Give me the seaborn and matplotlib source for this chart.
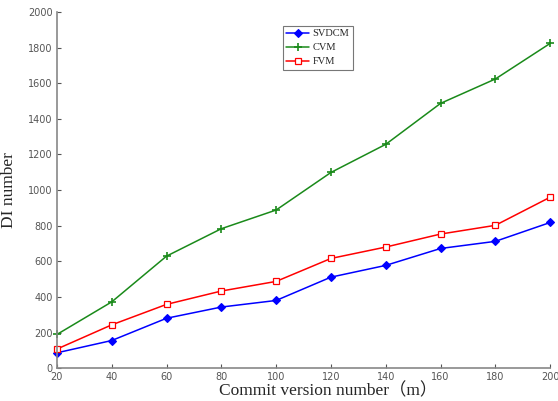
import matplotlib
matplotlib.use("Agg")
import matplotlib.pyplot as plt
import seaborn as sns
import pandas as pd

# Chart data
versions = [20, 40, 60, 80, 100, 120, 140, 160, 180, 200]
svdcm = [86, 155, 280, 343, 380, 511, 577, 672, 712, 818]
cvm = [189, 372, 629, 783, 888, 1099, 1257, 1487, 1624, 1824]
fvm = [107, 243, 358, 433, 487, 616, 680, 753, 802, 960]
methods = ["SVDCM", "CVM", "FVM"]

rows = []
for name, vals in zip(methods, [svdcm, cvm, fvm]):
    for v, d in zip(versions, vals):
        rows.append({"version": v, "DI": d, "method": name})
df = pd.DataFrame(rows)

sns.set_style("ticks")
plt.rcParams["font.family"] = ["DejaVu Sans"]

fig = plt.figure(figsize=(5.58, 4.01), dpi=100)
ax = fig.add_axes([0.102, 0.082, 0.884, 0.888])

palette = {"SVDCM": "#0000ff", "CVM": "#1a8a1a", "FVM": "#ff0000"}

sns.lineplot(data=df, x="version", y="DI", hue="method", palette=palette,
             linewidth=1.1, ax=ax, legend=False)

# markers drawn per series so the shapes match the reference
styles = {
    "SVDCM": dict(marker="D", markersize=4, markeredgewidth=0.8),
    "CVM": dict(marker="+", markersize=6, markeredgewidth=1.2),
    "FVM": dict(marker="s", markersize=5, markerfacecolor="white", markeredgewidth=0.9),
}
for name in methods:
    sub = df[df["method"] == name]
    ax.plot(sub["version"], sub["DI"], linestyle="none", color=palette[name],
            clip_on=False, **styles[name])

# legend proxies
handles = [plt.Line2D([], [], color=palette[n], linewidth=1.1, **styles[n]) for n in methods]
leg = ax.legend(handles, methods, loc="upper left", bbox_to_anchor=(0.458, 0.962),
                frameon=True, fancybox=False, handlelength=2.2,
                borderpad=0.35, labelspacing=0.45, handletextpad=0.3,
                borderaxespad=0.0,
                prop={"family": "Liberation Serif", "size": 7.5})
leg.get_frame().set_edgecolor("#555555")
leg.get_frame().set_linewidth(0.8)

ax.set_xlim(20, 200)
ax.set_ylim(0, 2000)
ax.set_xticks(versions)
ax.set_yticks(range(0, 2001, 200))
ax.tick_params(direction="in", length=3, labelsize=7, colors="#555555",
               labelcolor="#555555", width=0.8)
ax.tick_params(axis="x", pad=3)
ax.tick_params(axis="y", pad=3)
for s in ["top", "right"]:
    ax.spines[s].set_visible(False)
for s in ["left", "bottom"]:
    ax.spines[s].set_color("#888888")
    ax.spines[s].set_linewidth(1.2)

ax.set_xlabel("Commit version number（m）", fontsize=12.5,
              family=["Liberation Serif", "Noto Sans CJK SC"])
ax.xaxis.set_label_coords(0.55, -0.064, transform=ax.transAxes)
ax.xaxis.label.set_va("center")
ax.set_ylabel("DI number", fontsize=12.5, family="Liberation Serif", labelpad=8)

fig.savefig("out.png", dpi=100)
